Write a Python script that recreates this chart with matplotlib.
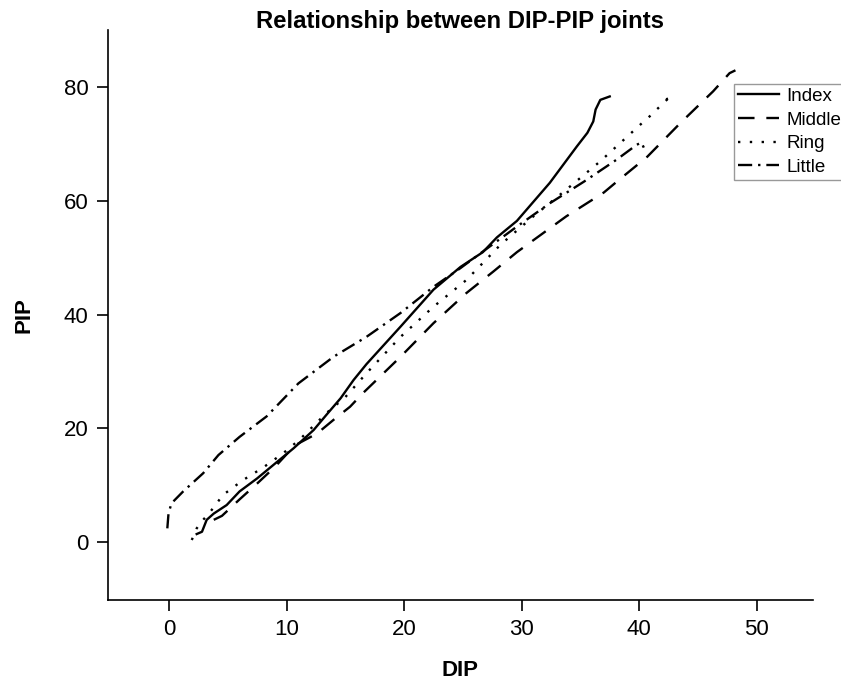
import matplotlib
matplotlib.use("Agg")
import matplotlib.pyplot as plt

# Values (DIP, PIP) for each finger
index_dip = [2.35, 2.8, 3.2, 3.8, 4.9, 6.0, 7.5, 8.9, 10.6, 12.3, 13.4, 14.6, 15.7,
             16.8, 19.7, 22.5, 24.8, 26.7, 27.9, 29.6, 32.4, 34.7, 35.6, 36.1, 36.3,
             36.7, 37.1, 37.5]
index_pip = [1.4, 1.8, 3.9, 5.0, 6.5, 8.9, 11.2, 13.6, 16.5, 19.7, 22.4, 25.3, 28.5,
             31.3, 37.9, 44.4, 48.4, 51.0, 53.6, 56.5, 63.2, 69.6, 72.0, 74.0, 76.1,
             77.8, 78.1, 78.4]

middle_dip = [3.8, 4.5, 6.0, 7.5, 9.0, 10.7, 12.6, 14.0, 15.4, 16.5, 19.7, 22.5, 25.3,
              27.6, 29.6, 33.8, 37.0, 38.1, 40.7, 43.5, 46.3, 47.7, 48.2]
middle_pip = [3.9, 4.6, 7.5, 10.3, 13.2, 17.0, 19.1, 21.5, 23.8, 26.2, 32.6, 38.5, 43.8,
              47.6, 51.0, 57.3, 61.5, 63.4, 67.8, 73.7, 79.3, 82.5, 83.0]

ring_dip = [1.93, 2.35, 2.9, 3.5, 4.6, 6.3, 8.0, 9.7, 11.1, 13.4, 15.0, 16.8, 19.7, 22.5,
            25.3, 28.2, 31.0, 33.8, 36.7, 40.4, 40.7, 42.5, 42.8, 42.3]
ring_pip = [0.35, 2.4, 3.9, 5.3, 8.3, 10.9, 13.1, 15.6, 18.0, 22.7, 25.5, 29.7, 36.1, 41.4,
            46.1, 52.3, 57.3, 62.0, 67.0, 74.0, 74.5, 78.1, 78.3, 77.9]

little_dip = [-0.15, -0.05, 0.2, 1.2, 2.9, 4.2, 6.0, 8.3, 11.0, 14.0, 16.8, 19.7, 22.5,
              24.8, 26.5, 29.6, 32.4, 35.3, 38.1, 39.8, 40.2, 40.4]
little_pip = [2.4, 5.0, 6.8, 8.9, 12.1, 15.3, 18.5, 22.1, 27.9, 32.6, 36.1, 40.3, 44.9,
              48.2, 50.8, 55.5, 59.6, 63.4, 67.3, 69.9, 70.3, 69.4]

labels = ["Index", "Middle", "Ring", "Little"]

plt.rcParams["font.family"] = ["Liberation Sans", "DejaVu Sans"]

fig = plt.figure(figsize=(8.41, 6.81), dpi=100)
ax = fig.add_axes([0.1284, 0.119, 0.8383, 0.837])

lw = 1.7
ax.plot(index_dip, index_pip, color="black", lw=lw, linestyle="-", label=labels[0])
ax.plot(middle_dip, middle_pip, color="black", lw=lw, linestyle=(0, (7, 5)), label=labels[1])
ax.plot(ring_dip, ring_pip, color="black", lw=lw, linestyle=(0, (1, 4)), label=labels[2])
ax.plot(little_dip, little_pip, color="black", lw=lw, linestyle=(0, (6, 2.5, 1, 2.5)), label=labels[3])

ax.set_xlim(-5.2, 54.8)
ax.set_ylim(-10.2, 90.1)
ax.set_xticks([0, 10, 20, 30, 40, 50])
ax.set_yticks([0, 20, 40, 60, 80])
ax.tick_params(direction="out", length=8, width=1.2, labelsize=16, pad=6)

for s in ["top", "right"]:
    ax.spines[s].set_visible(False)
for s in ["left", "bottom"]:
    ax.spines[s].set_linewidth(1.2)

ax.set_xlabel("DIP", fontsize=16, fontweight="bold", va="center")
ax.set_ylabel("PIP", fontsize=16, fontweight="bold", va="center")
ax.xaxis.set_label_coords(0.499, -0.123)
ax.yaxis.set_label_coords(-0.119, 0.5)
fig.text(0.547, 0.969, "Relationship between DIP-PIP joints", ha="center", va="center",
         fontsize=17.2, fontweight="bold")

leg = ax.legend(loc="upper left", bbox_to_anchor=(0.888, 0.905), fontsize=13.5,
                frameon=True, fancybox=False, borderpad=0.2, labelspacing=0.35,
                handlelength=2.2, handletextpad=0.4, borderaxespad=0)
leg.get_frame().set_edgecolor("#808080")
leg.get_frame().set_linewidth(1.0)

fig.savefig("out.png", dpi=100)
